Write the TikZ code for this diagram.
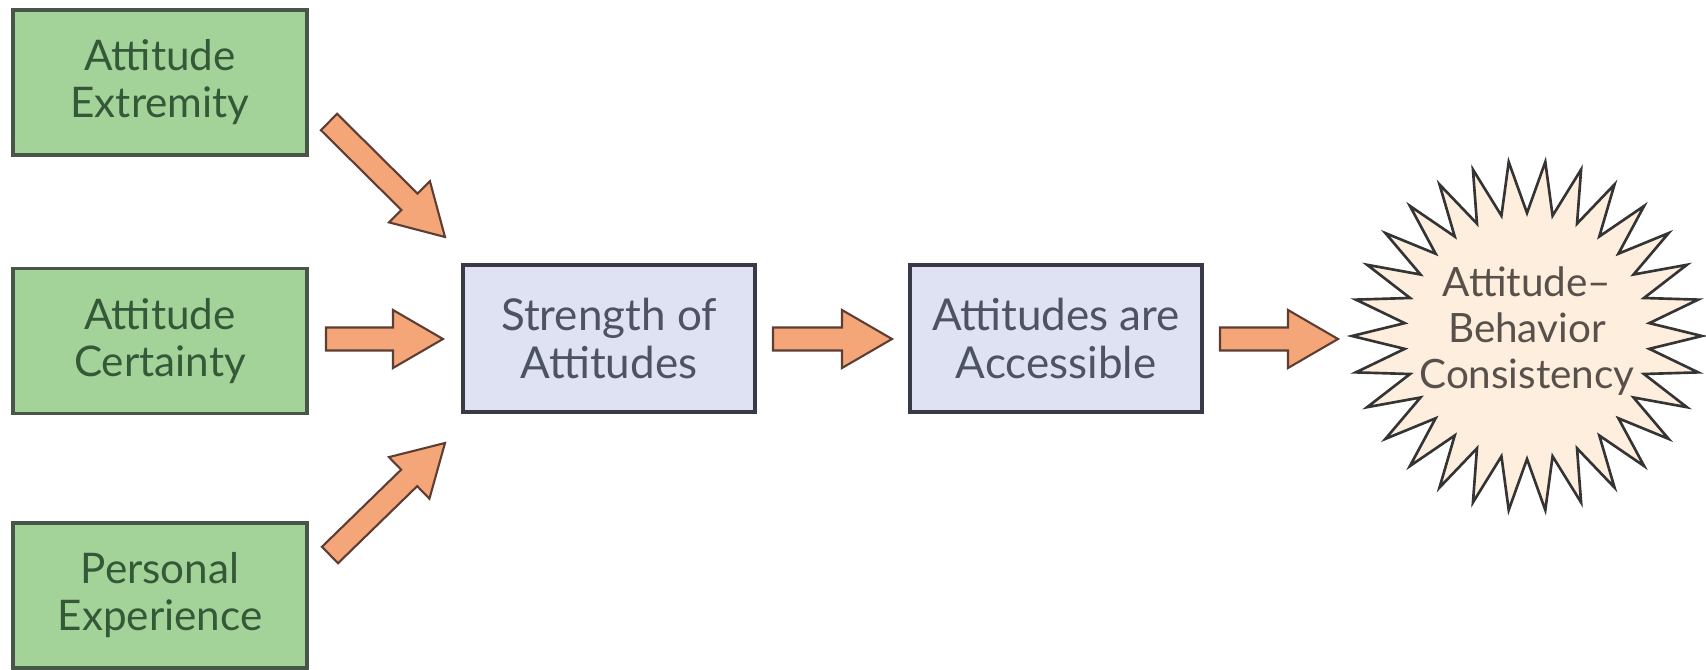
\documentclass[tikz,border=0pt]{standalone}
\usepackage{fontspec}
\setmainfont{Lato}
\usetikzlibrary{calc}

\definecolor{boxgreen}{RGB}{164,211,153}
\definecolor{boxgreenline}{RGB}{72,86,74}
\definecolor{txtgreen}{RGB}{52,88,56}
\definecolor{boxblue}{RGB}{222,226,243}
\definecolor{boxblueline}{RGB}{56,59,70}
\definecolor{txtblue}{RGB}{78,83,98}
\definecolor{arrowfill}{RGB}{245,166,120}
\definecolor{arrowline}{RGB}{92,62,52}
\definecolor{burstfill}{RGB}{253,238,222}
\definecolor{burstline}{RGB}{52,52,52}
\definecolor{txtburst}{RGB}{88,80,74}

% shaft half-width, head half-width and head length of the block arrows
\newcommand\shafthalf{0.115cm}
\newcommand\headhalf{0.29cm}
\newcommand\headlen{0.5cm}

% block arrow from coordinate #1 (tail centre) to coordinate #2 (tip)
\newcommand\blockarrow[2]{%
  \coordinate (#1-hb) at ($(#2)!\headlen!(#1)$);
  \draw[fatarrow]
    ($(#1)!\shafthalf!90:(#2)$) -- ($(#1-hb)!\shafthalf!90:(#2)$)
    -- ($(#1-hb)!\headhalf!90:(#2)$) -- (#2)
    -- ($(#1-hb)!\headhalf!-90:(#2)$) -- ($(#1-hb)!\shafthalf!-90:(#2)$)
    -- ($(#1)!\shafthalf!-90:(#2)$) -- cycle;
}

\begin{document}
\begin{tikzpicture}[x=0.01cm,y=-0.01cm,
  greenbox/.style={draw=boxgreenline, fill=boxgreen, line width=1.1pt,
    minimum width=2.94cm, minimum height=1.45cm, align=center,
    text=txtgreen, font=\fontsize{12}{13.4}\selectfont},
  bluebox/.style={draw=boxblueline, fill=boxblue, line width=1.1pt,
    minimum width=2.92cm, minimum height=1.47cm, align=center,
    text=txtblue, font=\fontsize{12.5}{13.8}\selectfont},
  fatarrow/.style={draw=arrowline, fill=arrowfill, line width=0.6pt,
    line join=miter},
  burstshape/.style={draw=burstline, fill=burstfill, line width=0.75pt,
    line join=miter},
  bursttext/.style={align=center, text=txtburst, inner sep=0pt,
    font=\fontsize{11.5}{13}\selectfont}
]
\useasboundingbox (0,0) rectangle (1706,670);

% source factors
\node[greenbox] (extr) at (160,82.5) {Attitude\\Extremity};
\node[greenbox] (cert) at (160,341) {Attitude\\Certainty};
\node[greenbox] (pers) at (160,595.5) {Personal\\Experience};

% intermediate stages
\node[bluebox] (strength) at (609,338.5) {Strength of\\Attitudes};
\node[bluebox] (access) at (1056,338.5) {Attitudes are\\Accessible};

% outcome starburst
\coordinate (bc) at (1527,336);
\filldraw[burstshape] ($(bc)+(0:175)$)
  \foreach \i [evaluate=\i as \r using {mod(\i,2)==0 ? 175 : 123}] in {1,...,59}
    { -- ($(bc)+(\i*6:\r)$) } -- cycle;
\node[bursttext] (burst) at (1527,331) {Attitude–\\Behavior\\Consistency};

% arrow end points
\coordinate (a1) at (329,122);  \coordinate (a1t) at (445,237);
\coordinate (a2) at (326,339);  \coordinate (a2t) at (443,339);
\coordinate (a3) at (330,555);  \coordinate (a3t) at (445,443);
\coordinate (a4) at (773,339);  \coordinate (a4t) at (892,339);
\coordinate (a5) at (1220,339); \coordinate (a5t) at (1338,339);

\blockarrow{a1}{a1t}
\blockarrow{a2}{a2t}
\blockarrow{a3}{a3t}
\blockarrow{a4}{a4t}
\blockarrow{a5}{a5t}
\end{tikzpicture}
\end{document}
